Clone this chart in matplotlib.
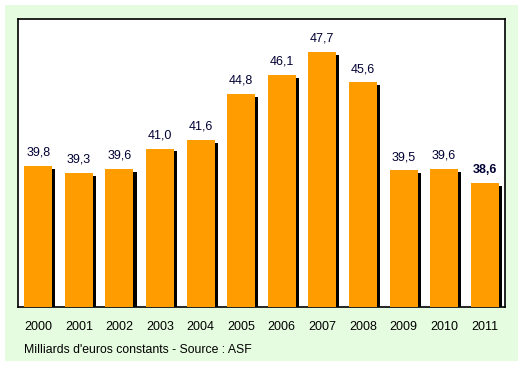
import matplotlib.pyplot as plt
import numpy as np

plt.rcParams['font.family'] = ['Liberation Sans', 'DejaVu Sans']

years = ["2000", "2001", "2002", "2003", "2004", "2005",
         "2006", "2007", "2008", "2009", "2010", "2011"]
values = [39.8, 39.3, 39.6, 41.0, 41.6, 44.8, 46.1, 47.7, 45.6, 39.5, 39.6, 38.6]
labels = ["39,8", "39,3", "39,6", "41,0", "41,6", "44,8",
          "46,1", "47,7", "45,6", "39,5", "39,6", "38,6"]

bg = "#e5fce0"
orange = "#ff9c00"

fig = plt.figure(figsize=(5.23, 3.66), dpi=100)
fig.patch.set_facecolor("white")
# green panel behind everything
fig.patches.append(plt.Rectangle((5 / 523, 1 - 361 / 366), 513 / 523, 356 / 366,
                                 transform=fig.transFigure, facecolor=bg,
                                 edgecolor="none", zorder=-10))

ax = fig.add_axes([18 / 523, 1 - 307 / 366, 487 / 523, 288 / 366])
ax.set_facecolor("white")
ax.set_zorder(1)

x = np.arange(len(years))
w = 0.69
dx, dy = 0.075, 0.2

# shadows
ax.bar(x + dx, np.array(values) - dy, width=w, color="black", zorder=2)
ax.bar(x, values, width=w, color=orange, zorder=3)

for i, (v, lab) in enumerate(zip(values, labels)):
    ax.text(i, v + 0.5, lab, ha="center", va="bottom", fontsize=9,
            color="#000033", fontweight="bold" if i == len(values) - 1 else "normal",
            zorder=4)

ax.set_xlim(-0.5, len(years) - 0.5)
ax.set_ylim(30, 50)
ax.set_yticks([])
ax.set_xticks(x)
ax.set_xticklabels(years, fontsize=9)
ax.tick_params(axis="x", length=0, pad=10)
for s in ax.spines.values():
    s.set_linewidth(1.2)
    s.set_color("black")

fig.text(24 / 523, 1 - 350 / 366, "Milliards d'euros constants - Source : ASF",
         fontsize=8.8, va="center", ha="left", zorder=5)

fig.savefig("out.png", dpi=100, facecolor=fig.get_facecolor())
